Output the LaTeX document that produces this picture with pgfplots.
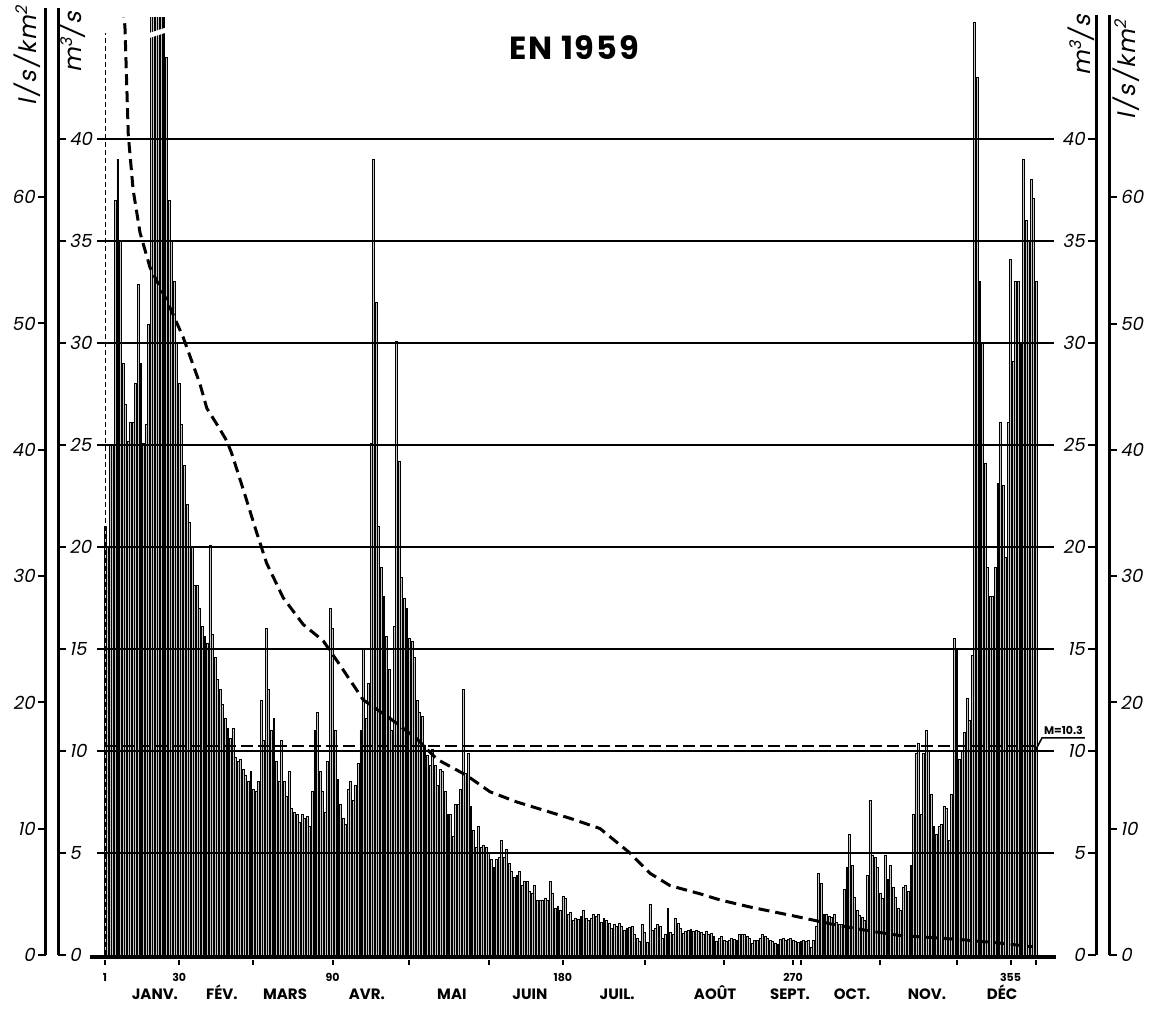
\documentclass[border=0pt]{standalone}
\usepackage{fontspec}
\setmainfont{Poppins}
\newfontfamily\slfont[FakeSlant=0.2]{Poppins}
\newfontfamily\unitfont[FakeSlant=0.2,LetterSpace=10]{Poppins}
\newfontfamily\titlefont[LetterSpace=6]{Poppins}
\usepackage{pgfplots}
\pgfplotsset{compat=1.18}
\usepackage{pgfplotstable}

\pgfplotstableread{
d q
1 21.0
2 20.0
3 25.0
4 25.0
5 37.0
6 39.0
7 35.0
8 29.0
9 27.0
10 25.2
11 26.1
12 26.1
13 28.0
14 32.9
15 29.0
16 25.1
17 26.0
18 30.9
19 50
20 50
21 50
22 50
23 50
24 50
25 44.0
26 37.0
27 35.0
28 33.0
29 30.0
30 28.0
31 26.0
32 24.0
33 22.1
34 21.2
35 20.0
36 18.1
37 18.1
38 17.0
39 16.1
40 15.6
41 15.3
42 20.1
43 15.7
44 14.6
45 13.5
46 13.0
47 12.3
48 11.6
49 11.1
50 10.6
51 11.1
52 9.7
53 9.5
54 9.6
55 9.1
56 8.8
57 8.5
58 9.0
59 8.1
60 8.0
61 8.5
62 12.5
63 10.5
64 16.0
65 13.0
66 11.0
67 11.6
68 9.5
69 8.5
70 10.5
71 8.5
72 7.8
73 9.0
74 7.2
75 7.0
76 6.9
77 6.5
78 6.9
79 6.7
80 6.8
81 6.3
82 8.0
83 11.0
84 11.9
85 9.0
86 8.0
87 7.0
88 9.5
89 17.0
90 16.0
91 11.0
92 8.6
93 7.4
94 6.7
95 6.4
96 8.1
97 8.5
98 7.6
99 8.3
100 9.4
101 11.0
102 15.0
103 11.6
104 13.3
105 25.1
106 39.0
107 32.0
108 21.0
109 19.0
110 17.6
111 15.6
112 14.0
113 11.0
114 16.1
115 30.1
116 24.2
117 18.5
118 17.5
119 17.0
120 15.5
121 15.4
122 14.6
123 12.5
124 11.9
125 11.7
126 10.3
127 9.8
128 9.3
129 10.1
130 9.3
131 8.3
132 9.1
133 9.0
134 8.0
135 6.9
136 6.9
137 5.8
138 7.4
139 7.4
140 8.1
141 13.0
142 8.9
143 9.9
144 7.3
145 6.1
146 5.3
147 6.3
148 5.3
149 5.4
150 5.3
151 5.0
152 4.7
153 4.3
154 4.7
155 4.8
156 5.6
157 4.8
158 5.2
159 4.5
160 4.1
161 3.8
162 3.9
163 4.1
164 3.4
165 3.6
166 3.6
167 3.1
168 3.0
169 3.4
170 2.7
171 2.7
172 2.7
173 2.8
174 2.7
175 3.6
176 3.0
177 2.3
178 2.4
179 2.2
180 2.9
181 2.8
182 2.0
183 2.1
184 1.7
185 1.8
186 1.75
187 1.9
188 2.2
189 1.8
190 1.7
191 1.8
192 2.0
193 1.9
194 2.0
195 1.6
196 1.8
197 1.7
198 1.55
199 1.3
200 1.5
201 1.4
202 1.55
203 1.4
204 1.2
205 1.3
206 1.35
207 1.4
208 1.0
209 0.8
210 0.65
211 1.5
212 1.1
213 0.6
214 2.5
215 1.2
216 1.3
217 1.5
218 1.4
219 0.8
220 1.0
221 2.3
222 1.1
223 1.0
224 1.8
225 1.55
226 1.3
227 1.05
228 1.15
229 1.2
230 1.25
231 1.15
232 1.2
233 1.15
234 1.1
235 1.0
236 1.15
237 1.0
238 1.05
239 0.9
240 0.65
241 0.8
242 0.9
243 0.7
244 0.65
245 0.7
246 0.8
247 0.75
248 0.7
249 1.0
250 1.0
251 1.0
252 0.9
253 0.8
254 0.55
255 0.7
256 0.7
257 0.8
258 1.0
259 0.9
260 0.8
261 0.7
262 0.65
263 0.55
264 0.5
265 0.75
266 0.8
267 0.7
268 0.75
269 0.8
270 0.7
271 0.65
272 0.6
273 0.65
274 0.7
275 0.65
276 0.7
277 0.4
278 0.7
279 1.4
280 4.0
281 3.5
282 2.0
283 2.0
284 1.9
285 1.85
286 2.0
287 1.6
288 1.5
289 1.5
290 3.2
291 4.3
292 5.9
293 4.4
294 2.85
295 2.2
296 1.95
297 1.85
298 1.7
299 3.9
300 7.6
301 4.9
302 4.8
303 4.3
304 3.0
305 2.8
306 4.9
307 3.7
308 4.4
309 3.3
310 2.85
311 2.3
312 2.2
313 3.3
314 3.4
315 3.1
316 4.4
317 6.9
318 9.9
319 10.4
320 6.9
321 9.9
322 11.0
323 10.0
324 7.9
325 6.3
326 5.9
327 6.3
328 6.4
329 7.3
330 7.2
331 5.6
332 7.9
333 15.5
334 15.0
335 9.6
336 10.0
337 10.9
338 12.6
339 11.5
340 14.7
341 45.7
342 43.0
343 33.0
344 30.0
345 24.1
346 19.0
347 17.6
348 17.6
349 19.0
350 23.1
351 26.1
352 23.0
353 19.5
354 26.1
355 34.1
356 29.1
357 33.0
358 33.0
359 30.0
360 39.0
361 36.0
362 35.0
363 38.0
364 37.1
365 33.0
}\daily

\pgfplotstableread{
d q
8.0 46.5
8.8 45.5
10.1 40.2
12.0 37.5
14.7 35.4
18.6 33.7
25.1 32.1
31.5 30.3
38.1 28.0
40.8 26.8
45.3 25.9
48.6 25.2
50.5 24.6
55.1 22.8
60.3 20.7
64.2 19.2
70.7 17.5
78.5 16.2
86.3 15.4
92.9 14.2
102.0 12.5
112.4 11.6
122.9 10.6
130.7 9.6
142.4 8.8
151.5 8.0
162.0 7.5
175.0 7.0
182.8 6.7
194.5 6.2
206.2 5.0
214.1 4.0
221.9 3.4
233.6 3.0
241.4 2.7
253.2 2.35
264.9 2.05
272.7 1.85
285.6 1.5
298.9 1.2
311.8 0.95
324.7 0.85
338.0 0.73
350.9 0.58
363.8 0.4
}\duration

\pgfplotsset{
  yax/.style={scale only axis, width=10pt, xmin=0, xmax=1, ymin=0,
    axis x line=none, xtick=\empty,
    every outer y axis line/.append style={-},
    every inner y axis line/.append style={-},
    y axis line style={-, line width=1.5pt},
    tick align=outside, major tick length=4pt,
    ytick style={line width=1pt, black},
    yticklabel style={font=\slfont\fontsize{9}{10}\selectfont, inner sep=1.5pt},
    /pgf/number format/assume math mode=true,
    clip=false}
}

\begin{document}
\begin{tikzpicture}
\useasboundingbox (0pt,0pt) rectangle (582pt,506pt);

\begin{axis}[
  at={(23pt,25.95pt)}, anchor=south west,
  scale only axis, width=531.5pt, height=471.05pt,
  xmin=-22.065, xmax=393.49, ymin=-0.25, ymax=45.93,
  axis y line=none,
  axis x line*=bottom,
  x axis line style={draw=none},
  tick align=outside, major tick length=2.5pt,
  x tick style={line width=1pt, black},
  xtick={1,30,59,90,120,151,180,212,243,270,273,304,334,355,365},
  xticklabels={1,30,,90,,,180,,,270,,,,355,},
  xticklabel style={font=\bfseries\fontsize{5.5}{6}\selectfont, inner sep=0.8pt, text height=1.3ex, text depth=0pt},
  /pgf/number format/assume math mode=true,
  extra x ticks={20.5,46.7,71.4,103.4,136.6,167.1,201.2,239.5,268.8,293,322.3,351.7},
  extra x tick labels={JANV.,FÉV.,MARS,AVR.,MAI,JUIN,JUIL.,AOÛT,SEPT.,OCT.,NOV.,DÉC},
  extra x tick style={major tick length=0pt,
    xticklabel style={font=\bfseries\fontsize{7.5}{8}\selectfont, yshift=-10.5pt, inner sep=0.8pt, text height=1.5ex, text depth=0pt}},
]
% daily discharges
\addplot[ybar, bar width=0.95pt, bar shift=0pt, fill=black!22, draw=black, line width=0.3pt] table[x=d,y=q] {\daily};
% break marks on clipped bars
\fill[white] (axis cs:18.4,44.95) -- (axis cs:24.6,45.2) -- (axis cs:24.6,45.45) -- (axis cs:18.4,45.2) -- cycle;
% horizontal reference lines (drawn over the bars)
\pgfplotsinvokeforeach{5,10,15,20,25,30,35,40}{
  \draw[line width=1pt] (axis cs:-2.13,#1) -- (axis cs:372,#1);
}
% base line
\draw[line width=1.6pt] (axis cs:-4.86,-0.1) -- (axis cs:372.8,-0.1);
% day-1 thin dashed line
\addplot[black, line width=0.5pt, dash pattern=on 2.5pt off 1.5pt] coordinates {(1,0) (1,45.2)};
% mean
\addplot[black, line width=1.1pt, dash pattern=on 6pt off 2.5pt] coordinates {(1,10.25) (365,10.25)};
% duration curve
\addplot[black, line width=1.5pt, dash pattern=on 5.5pt off 3pt] table[x=d,y=q] {\duration};
% mean annotation
\draw[line width=0.8pt] (axis cs:364.6,10.0) -- (axis cs:367.3,10.64) -- (axis cs:384.1,10.64);
\node[anchor=south, font=\bfseries\fontsize{5.5}{6}\selectfont, inner sep=1pt] at (axis cs:375.7,10.7) {M=10.3};
\end{axis}

% left l/s/km2
\begin{axis}[axis y line=left, yax, at={(23pt,28.5pt)}, anchor=south west, height=473.5pt, ymax=74.98,
  ytick={0,10,20,30,40,50,60}]
\end{axis}
% left m3/s
\begin{axis}[axis y line=right, yax, at={(29pt,28.5pt)}, anchor=south east, height=473.5pt, ymax=46.42,
  ytick={0,5,10,15,20,25,30,35,40}]
\end{axis}
% right m3/s
\begin{axis}[axis y line=left, yax, at={(548pt,28.5pt)}, anchor=south west, height=470pt, ymax=46.08,
  ytick={0,5,10,15,20,25,30,35,40}]
\end{axis}
% right l/s/km2
\begin{axis}[axis y line=right, yax, at={(554.5pt,28.5pt)}, anchor=south east, height=470pt, ymax=74.43,
  ytick={0,10,20,30,40,50,60}]
\end{axis}

\node[font=\titlefont\bfseries\fontsize{16}{17}\selectfont] at (287pt,482pt) {EN 1959};
\node[rotate=90, font=\unitfont\fontsize{12}{13}\selectfont, inner sep=0pt] at (13.5pt,478pt) {l/s/km\raisebox{0.7ex}{\fontsize{8}{8}\selectfont 2}};
\node[rotate=90, font=\unitfont\fontsize{12}{13}\selectfont, inner sep=0pt] at (36pt,485pt) {m\raisebox{0.7ex}{\fontsize{8}{8}\selectfont 3}/s};
\node[rotate=90, font=\unitfont\fontsize{12}{13}\selectfont, inner sep=0pt] at (540.5pt,483.5pt) {m\raisebox{0.7ex}{\fontsize{8}{8}\selectfont 3}/s};
\node[rotate=90, font=\unitfont\fontsize{12}{13}\selectfont, inner sep=0pt] at (563pt,471pt) {l/s/km\raisebox{0.7ex}{\fontsize{8}{8}\selectfont 2}};
\end{tikzpicture}
\end{document}
